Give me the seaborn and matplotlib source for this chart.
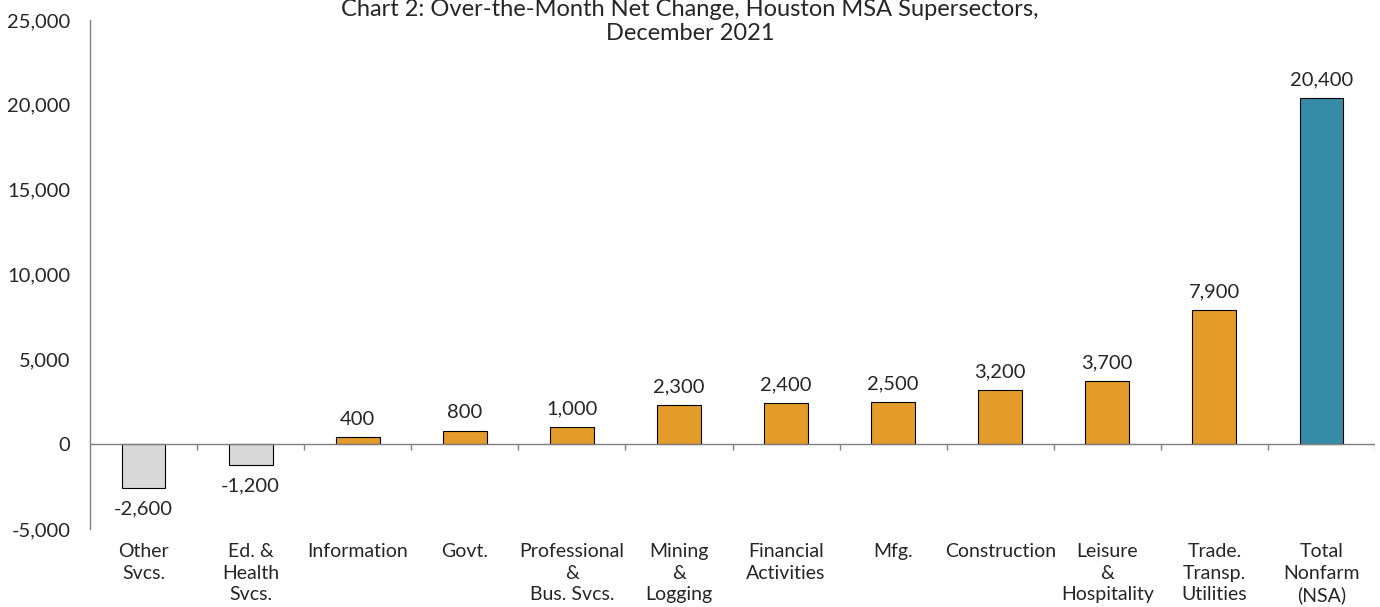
import matplotlib
matplotlib.use("Agg")
import matplotlib.pyplot as plt
import seaborn as sns
import pandas as pd

categories = ["Other\nSvcs.", "Ed. &\nHealth\nSvcs.", "Information", "Govt.",
              "Professional\n&\nBus. Svcs.", "Mining\n&\nLogging", "Financial\nActivities",
              "Mfg.", "Construction", "Leisure\n&\nHospitality", "Trade.\nTransp.\nUtilities",
              "Total\nNonfarm\n(NSA)"]
values = [-2600, -1200, 400, 800, 1000, 2300, 2400, 2500, 3200, 3700, 7900, 20400]
bar_colors = ["#D9D9D9", "#D9D9D9"] + ["#E39B2A"] * 9 + ["#368CA6"]
yticks = [-5000, 0, 5000, 10000, 15000, 20000, 25000]

sns.set_theme(style="white")
plt.rcParams['font.family'] = ['Lato', 'DejaVu Sans']

df = pd.DataFrame({"cat": categories, "val": values})
fig = plt.figure(figsize=(13.8, 6.07), dpi=100)
ax = fig.add_axes([0.0652, 0.1285, 0.9312, 0.8385])

sns.barplot(data=df, x="cat", y="val", hue="cat", palette=bar_colors, legend=False,
            width=0.41, edgecolor="black", linewidth=0.8, ax=ax, saturation=1)

ax.set_xlim(-0.5, len(categories) - 0.5)
ax.set_ylim(-5000, 25000)
ax.set_yticks(yticks)
ax.set_yticklabels([f"{v:,}" for v in yticks], fontsize=14.5)
ax.set_xlabel("")
ax.set_ylabel("")
ax.set_xticks(range(len(categories)))
ax.set_xticklabels(categories, fontsize=14, linespacing=1.33, va="top")
ax.tick_params(axis="x", length=0, pad=10)
ax.tick_params(axis="y", length=0, pad=14)

for s in ["top", "right", "bottom"]:
    ax.spines[s].set_visible(False)
ax.spines["left"].set_color("#808080")
ax.spines["left"].set_linewidth(1.0)

ax.axhline(0, color="#808080", linewidth=1.0, zorder=3)
ax.vlines([i + 0.5 for i in range(len(categories))], -350, 0, color="#808080", linewidth=1.0)

for i, v in enumerate(values):
    if v >= 0:
        ax.annotate(f"{v:,}", (i, v), xytext=(0, 7), textcoords="offset points",
                    ha="center", va="bottom", fontsize=14.5)
    else:
        ax.annotate(f"{v:,}", (i, v), xytext=(0, -9), textcoords="offset points",
                    ha="center", va="top", fontsize=14.5)

fig.text(0.5, 1 - 10 / 607, "Chart 2: Over-the-Month Net Change, Houston MSA Supersectors,",
         ha="center", va="center", fontsize=17)
fig.text(0.5, 1 - 34 / 607, "December 2021", ha="center", va="center", fontsize=17)

fig.savefig("out.png", dpi=100)
